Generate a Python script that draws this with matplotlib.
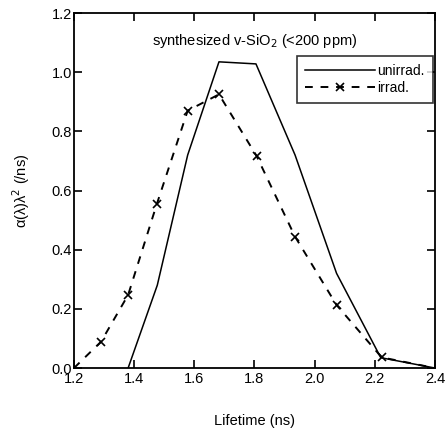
import matplotlib
matplotlib.use("Agg")
import matplotlib.pyplot as plt

plt.rcParams['font.family'] = ['Liberation Sans', 'DejaVu Sans']

# Data
unirrad_x = [1.38, 1.477, 1.578, 1.682, 1.805, 1.935, 2.073, 2.22, 2.4]
unirrad_y = [0.0, 0.28, 0.72, 1.035, 1.028, 0.72, 0.32, 0.035, 0.0]

irrad_x = [1.2, 1.290, 1.380, 1.475, 1.578, 1.682, 1.807, 1.935, 2.073, 2.223, 2.4]
irrad_y = [0.0, 0.089, 0.247, 0.553, 0.870, 0.925, 0.717, 0.444, 0.213, 0.036, 0.0]

xticks = [1.2, 1.4, 1.6, 1.8, 2.0, 2.2, 2.4]
yticks = [0.0, 0.2, 0.4, 0.6, 0.8, 1.0, 1.2]

fig = plt.figure(figsize=(4.47, 4.34), dpi=100)
ax = fig.add_axes([0.1655, 0.152, 0.8075, 0.818])

ax.plot(unirrad_x, unirrad_y, color='black', linewidth=1.1, linestyle='-', label='unirrad.')
ax.plot(irrad_x, irrad_y, color='black', linewidth=1.4, linestyle=(0, (4, 4)),
        marker='x', markersize=6, markevery=list(range(1, len(irrad_x) - 1)),
        markeredgewidth=1.2, label='irrad.')

ax.set_xlim(1.2, 2.4)
ax.set_ylim(0.0, 1.2)
ax.set_xticks(xticks)
ax.set_yticks(yticks)
ax.set_xticklabels([f"{v:.1f}" for v in xticks])
ax.set_yticklabels([f"{v:.1f}" for v in yticks])
ax.tick_params(direction='in', top=True, right=True, length=6, width=1.2,
               labelsize=10.5, pad=1.5)
ax.tick_params(axis='x', pad=3)
for s in ax.spines.values():
    s.set_linewidth(1.3)

ax.text(0.5, 0.92, "synthesized v-SiO$_2$ (<200 ppm)", transform=ax.transAxes,
        ha='center', va='center', fontsize=10.5)

ax.set_xlabel("Lifetime (ns)", fontsize=10.5, labelpad=20)
ax.set_ylabel("α(λ)λ$^2$ (/ns)", fontsize=10.5, labelpad=14)

leg = ax.legend(loc='upper right', bbox_to_anchor=(0.995, 0.88), fontsize=10,
                frameon=True, fancybox=False, edgecolor='black', handlelength=5,
                handletextpad=0.2, borderpad=0.6, labelspacing=0.2,
                borderaxespad=0.0)
leg.get_frame().set_linewidth(1.2)

fig.savefig("out.png", dpi=100)
